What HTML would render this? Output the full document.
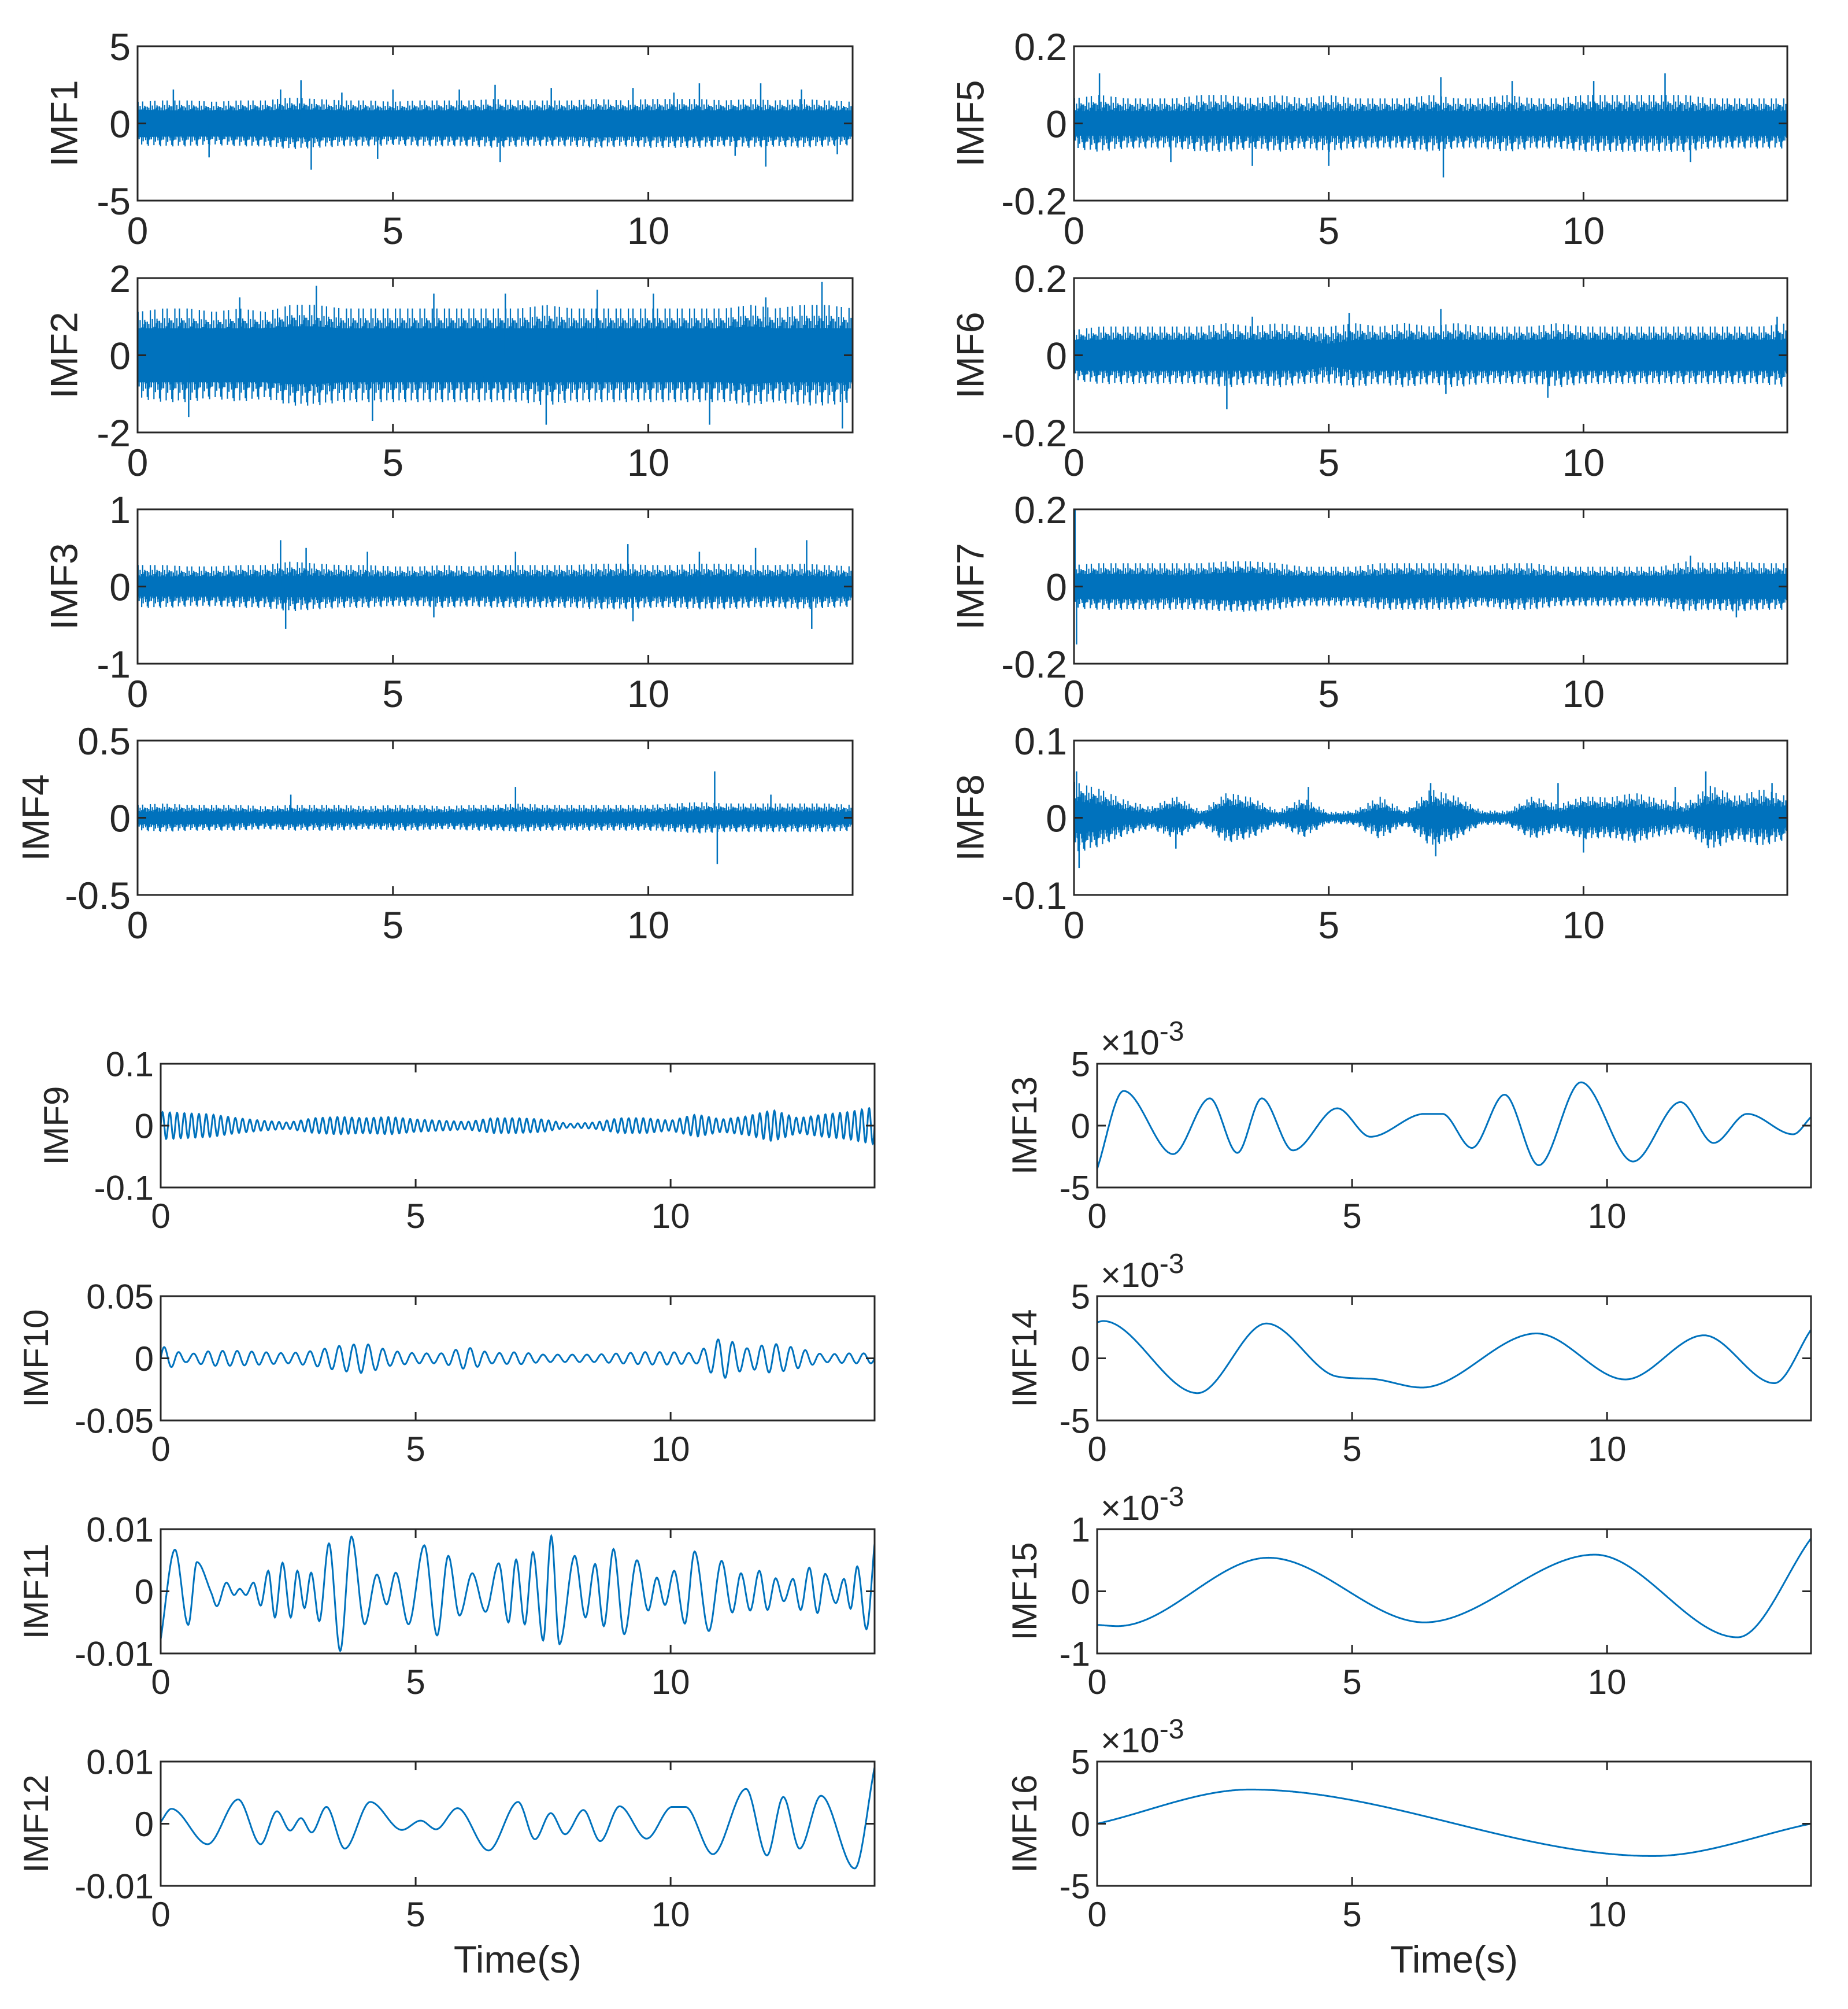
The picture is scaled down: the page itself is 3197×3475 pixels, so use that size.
<!DOCTYPE html>
<html><head><meta charset="utf-8">
<style>
html,body{margin:0;padding:0;background:#fff;}
svg{display:block;}
</style></head>
<body>
<svg id="fig" width="3197" height="3475" viewBox="0 0 3197 3475" xmlns="http://www.w3.org/2000/svg"></svg>
<script>
// ---------- data ----------
const envTimes = [0,0.5,1,1.5,2,2.5,3,3.5,4,4.5,5,5.5,6,6.5,7,7.5,8,8.5,9,9.5,10,10.5,11,11.5,12,12.5,13,13.5,14];
const imf1Core = [0.9,0.85,0.85,0.85,0.85,0.85,0.9,0.9,0.85,0.85,0.85,0.85,0.85,0.85,0.85,0.85,0.85,0.85,0.9,0.85,0.85,0.85,0.85,0.85,0.85,0.85,0.85,0.85,0.85];
const imf1Peak = [1.5,1.6,1.6,1.5,1.6,1.6,1.8,1.7,1.6,1.6,1.5,1.6,1.6,1.6,1.7,1.6,1.6,1.6,1.7,1.6,1.7,1.7,1.7,1.6,1.7,1.6,1.7,1.6,1.5];
const imf1SpikeT = [0.7,1.4,2.8,3.2,3.4,4.0,4.7,5.0,6.3,7.0,7.1,8.1,9.7,10.5,11.0,11.7,12.2,12.3,13.0,13.7];
const imf1SpikeV = [2.2,-2.2,2.2,2.8,-3.0,2.0,-2.3,2.2,2.2,2.5,-2.5,2.3,2.3,2.0,2.6,-2.1,2.6,-2.8,2.2,-2.0];
const imf2Core = [0.7,0.7,0.7,0.7,0.7,0.7,0.75,0.75,0.7,0.7,0.7,0.7,0.7,0.7,0.7,0.7,0.7,0.7,0.7,0.7,0.7,0.7,0.7,0.7,0.75,0.7,0.7,0.7,0.7];
const imf2Peak = [1.2,1.3,1.3,1.2,1.3,1.2,1.4,1.4,1.3,1.3,1.3,1.3,1.3,1.3,1.3,1.3,1.4,1.3,1.3,1.3,1.3,1.3,1.3,1.3,1.4,1.3,1.4,1.4,1.3];
const imf2SpikeT = [1.0,2.0,3.5,4.6,5.8,7.2,8.0,9.0,10.1,11.2,12.3,13.4,13.8];
const imf2SpikeV = [-1.6,1.5,1.8,-1.7,1.6,1.6,-1.8,1.7,1.6,-1.8,1.5,1.9,-1.9];
const imf3Core = [0.13,0.13,0.13,0.13,0.13,0.13,0.14,0.14,0.13,0.13,0.13,0.13,0.13,0.13,0.13,0.13,0.13,0.13,0.13,0.14,0.13,0.13,0.13,0.13,0.13,0.13,0.14,0.13,0.13];
const imf3Peak = [0.3,0.3,0.28,0.28,0.3,0.3,0.35,0.32,0.3,0.3,0.28,0.28,0.3,0.28,0.3,0.3,0.3,0.3,0.32,0.32,0.3,0.3,0.32,0.32,0.3,0.3,0.32,0.3,0.28];
const imf3SpikeT = [2.8,2.9,3.3,4.5,5.8,7.4,9.6,9.7,11.0,12.1,13.1,13.2];
const imf3SpikeV = [0.6,-0.55,0.5,0.45,-0.4,0.45,0.55,-0.45,0.45,0.5,0.6,-0.55];
const imf4Core = [0.04,0.04,0.04,0.04,0.035,0.035,0.04,0.035,0.035,0.035,0.035,0.035,0.035,0.035,0.04,0.04,0.035,0.035,0.035,0.035,0.035,0.04,0.04,0.045,0.04,0.04,0.04,0.04,0.04];
const imf4Peak = [0.09,0.1,0.09,0.09,0.09,0.08,0.09,0.09,0.09,0.08,0.09,0.09,0.08,0.09,0.09,0.1,0.09,0.09,0.09,0.09,0.09,0.1,0.11,0.1,0.1,0.1,0.1,0.1,0.09];
const imf4SpikeT = [3.0,7.4,11.3,11.35,12.4];
const imf4SpikeV = [0.15,0.2,0.3,-0.3,0.15];
const imf5Core = [0.032,0.032,0.032,0.032,0.032,0.032,0.032,0.032,0.032,0.032,0.032,0.032,0.032,0.032,0.032,0.032,0.032,0.032,0.032,0.032,0.032,0.032,0.032,0.032,0.032,0.032,0.032,0.032,0.032];
const imf5Peak = [0.07,0.08,0.07,0.07,0.07,0.08,0.08,0.07,0.08,0.07,0.08,0.07,0.07,0.07,0.08,0.07,0.07,0.08,0.07,0.07,0.08,0.08,0.08,0.08,0.08,0.07,0.07,0.07,0.07];
const imf5SpikeT = [0.5,1.9,3.5,5.0,7.2,7.25,8.6,10.2,11.6,12.1];
const imf5SpikeV = [0.13,-0.1,-0.11,-0.11,0.12,-0.14,0.11,0.11,0.13,-0.1];
const imf6Core = [0.04,0.04,0.04,0.04,0.04,0.04,0.04,0.04,0.04,0.04,0.028,0.04,0.04,0.04,0.04,0.04,0.04,0.04,0.04,0.04,0.04,0.04,0.04,0.04,0.04,0.04,0.04,0.04,0.04];
const imf6Peak = [0.07,0.08,0.08,0.08,0.08,0.08,0.09,0.08,0.09,0.08,0.08,0.09,0.08,0.09,0.08,0.09,0.08,0.08,0.08,0.09,0.08,0.08,0.08,0.08,0.08,0.08,0.08,0.08,0.09];
const imf6SpikeT = [3.0,3.5,5.4,7.2,7.3,9.3,13.8];
const imf6SpikeV = [-0.14,0.1,0.11,0.12,-0.1,-0.11,0.1];
const imf7Core = [0.032,0.032,0.032,0.032,0.028,0.032,0.036,0.036,0.028,0.028,0.028,0.028,0.028,0.032,0.028,0.028,0.028,0.032,0.028,0.028,0.028,0.028,0.028,0.028,0.032,0.032,0.032,0.032,0.032];
const imf7Peak = [0.06,0.065,0.065,0.065,0.065,0.065,0.07,0.07,0.065,0.055,0.055,0.055,0.065,0.065,0.065,0.065,0.055,0.065,0.065,0.055,0.055,0.055,0.055,0.055,0.07,0.065,0.07,0.065,0.065];
const imf7SpikeT = [0.02,0.05,12.1,13.0];
const imf7SpikeV = [0.2,-0.15,0.08,-0.08];
const imf8Core = [0.025,0.02,0.01,0.007,0.016,0.004,0.018,0.012,0.004,0.012,0.003,0.004,0.01,0.005,0.016,0.016,0.005,0.004,0.016,0.008,0.016,0.012,0.016,0.01,0.008,0.02,0.015,0.016,0.016];
const imf8Peak = [0.05,0.04,0.025,0.015,0.03,0.01,0.035,0.028,0.01,0.028,0.008,0.01,0.03,0.01,0.04,0.03,0.01,0.01,0.03,0.018,0.03,0.028,0.035,0.026,0.02,0.045,0.03,0.04,0.03];
const imf8SpikeT = [0.05,0.1,2.0,4.6,7.0,7.1,9.5,10.0,11.8,12.4,13.7];
const imf8SpikeV = [0.06,-0.065,-0.04,0.04,0.045,-0.05,0.045,-0.045,0.04,0.06,0.045];
const imf9Env = [0.022,0.02,0.018,0.012,0.008,0.005,0.012,0.014,0.012,0.014,0.01,0.008,0.006,0.012,0.012,0.01,0.003,0.005,0.012,0.012,0.008,0.018,0.01,0.015,0.025,0.012,0.018,0.022,0.03];
const imf10Env = [0.01,0.003,0.006,0.006,0.005,0.004,0.006,0.01,0.012,0.006,0.004,0.004,0.009,0.004,0.005,0.003,0.003,0.003,0.004,0.005,0.005,0.004,0.017,0.008,0.012,0.008,0.003,0.004,0.004];
const imf9Freq = 7, imf10Freq = 3.5;
const imf11T = [0,0.28,0.54,0.71,0.99,1.10,1.29,1.44,1.55,1.67,1.82,1.96,2.11,2.24,2.39,2.55,2.68,2.82,2.95,3.11,3.30,3.52,3.74,4.00,4.24,4.43,4.61,4.86,5.17,5.42,5.64,5.86,6.11,6.37,6.63,6.82,6.97,7.14,7.30,7.50,7.66,7.82,8.12,8.33,8.52,8.69,8.88,9.09,9.34,9.56,9.73,9.89,10.07,10.28,10.47,10.75,11.00,11.21,11.38,11.56,11.74,11.90,12.06,12.22,12.40,12.55,12.72,12.88,13.03,13.24,13.40,13.53,13.66,13.84,14];
const imf11V = [-0.0077,0.0067,-0.0054,0.0047,-0.0002,-0.0024,0.0014,-0.0006,0.0004,-0.0006,0.0014,-0.0023,0.0033,-0.0042,0.0046,-0.0042,0.0033,-0.0027,0.003,-0.0048,0.0077,-0.0096,0.0088,-0.0053,0.0027,-0.0021,0.003,-0.0053,0.0074,-0.0071,0.0057,-0.0039,0.0029,-0.0033,0.0045,-0.005,0.0051,-0.0053,0.0063,-0.0079,0.0089,-0.0085,0.0057,-0.0042,0.0044,-0.0056,0.0068,-0.0069,0.005,-0.0031,0.0022,-0.0022,0.0033,-0.0052,0.0064,-0.0064,0.0049,-0.0034,0.0029,-0.0031,0.0033,-0.003,0.0021,-0.0016,0.002,-0.003,0.0038,-0.0035,0.0028,-0.0019,0.002,-0.0028,0.004,-0.0061,0.0077];
const imf12T = [0,0.21,0.92,1.52,1.96,2.28,2.54,2.75,2.96,3.25,3.61,4.11,4.73,5.10,5.40,5.82,6.43,7.01,7.34,7.65,7.93,8.29,8.62,9.00,9.53,10.03,10.29,10.83,11.48,11.89,12.21,12.53,12.95,13.61,14];
const imf12V = [0.0003,0.0024,-0.0033,0.0039,-0.0033,0.002,-0.0011,0.0009,-0.0014,0.0027,-0.004,0.0035,-0.001,0.0005,-0.0009,0.0025,-0.0043,0.0035,-0.0025,0.0017,-0.0017,0.0022,-0.0028,0.0028,-0.0024,0.0027,0.0027,-0.0049,0.0056,-0.0051,0.0043,-0.004,0.0045,-0.0072,0.0091];
const imf13T = [0,0.52,1.49,2.21,2.75,3.23,3.84,4.71,5.36,6.42,6.77,7.35,7.99,8.66,9.49,10.51,11.44,12.09,12.75,13.65,14];
const imf13V = [-3.5,2.8,-2.3,2.2,-2.2,2.2,-2.0,1.4,-0.9,0.95,0.95,-1.8,2.5,-3.2,3.5,-2.9,1.9,-1.4,0.95,-0.7,0.7];
const imf14T = [0,0.12,1.97,3.32,4.69,5.38,6.37,8.62,10.36,11.9,13.28,14];
const imf14V = [2.9,3.0,-2.8,2.8,-1.45,-1.65,-2.35,2.0,-1.7,1.85,-2.0,2.3];
const imf15T = [0,0.4,3.36,6.42,9.76,12.56,14];
const imf15V = [-0.54,-0.56,0.54,-0.5,0.59,-0.74,0.85];
const imf16T = [0,3.0,10.9,14];
const imf16V = [0,2.75,-2.6,0];
const xTicks = [0,5,10];
const texturePattern = [0.35,1,0.55,0.85,0.2,0.95,0.6,0.4,0.75,0.3,0.9,0.5,0.15,0.8,0.65,0.45,1,0.25,0.7,0.55,0.9,0.35,0.6,0.1];

// ---------- helpers ----------
const NS="http://www.w3.org/2000/svg";
const svg=document.getElementById('fig');
function mk(tag,attrs,parent){const e=document.createElementNS(NS,tag);for(const k in attrs)e.setAttribute(k,attrs[k]);(parent||svg).appendChild(e);return e;}
function lerpArr(ts,vs,t){if(t<=ts[0])return vs[0];for(let i=1;i<ts.length;i++){if(t<=ts[i]){const f=(t-ts[i-1])/(ts[i]-ts[i-1]);return vs[i-1]+f*(vs[i]-vs[i-1]);}}return vs[vs.length-1];}
function monotone(ts,vs){const n=ts.length,d=[],m=[];for(let i=0;i<n-1;i++)d.push((vs[i+1]-vs[i])/(ts[i+1]-ts[i]));m[0]=d[0];m[n-1]=d[n-2];for(let i=1;i<n-1;i++){m[i]=(d[i-1]*d[i]<=0)?0:(d[i-1]+d[i])/2;}
 for(let i=0;i<n-1;i++){if(d[i]===0){m[i]=0;m[i+1]=0;continue;}const a=m[i]/d[i],b=m[i+1]/d[i],s=a*a+b*b;if(s>9){const tt=3/Math.sqrt(s);m[i]=tt*a*d[i];m[i+1]=tt*b*d[i];}}
 return function(t){let i=0;while(i<n-2&&t>ts[i+1])i++;const h=ts[i+1]-ts[i],u=(t-ts[i])/h;const h00=2*u*u*u-3*u*u+1,h10=u*u*u-2*u*u+u,h01=-2*u*u*u+3*u*u,h11=u*u*u-u*u;return h00*vs[i]+h10*h*m[i]+h01*vs[i+1]+h11*h*m[i+1];};}

const BLUE="#0072BD";
function axes(cfg){
 const g=mk('g',{});
 
 
 const X=t=>cfg.x0+(t-0)/(14-0)*(cfg.x1-cfg.x0);
 const Y=v=>cfg.y1-(v-cfg.ymin)/(cfg.ymax-cfg.ymin)*(cfg.y1-cfg.y0);
 return {g,X,Y};
}
function frame(cfg,a){
 const g=a.g;
 const r=mk('rect',{x:cfg.x0,y:cfg.y0,width:cfg.x1-cfg.x0,height:cfg.y1-cfg.y0,fill:'none',stroke:'#262626','stroke-width':3},g);
 
 const tl=15;
 xTicks.forEach(t=>{const x=a.X(t);
  mk('line',{x1:x,y1:cfg.y1,x2:x,y2:cfg.y1-tl,stroke:'#262626','stroke-width':3},g);
  mk('line',{x1:x,y1:cfg.y0,x2:x,y2:cfg.y0+tl,stroke:'#262626','stroke-width':3},g);
  const tx=mk('text',{x:x,y:cfg.y1+cfg.xlOff,'text-anchor':'middle','font-size':cfg.fs,fill:'#262626','font-family':cfg.ff},g);
  tx.textContent=String(t);
  
 });
 cfg.yt.forEach((v,i)=>{const y=a.Y(v);
  mk('line',{x1:cfg.x0,y1:y,x2:cfg.x0+tl,y2:y,stroke:'#262626','stroke-width':3},g);
  mk('line',{x1:cfg.x1,y1:y,x2:cfg.x1-tl,y2:y,stroke:'#262626','stroke-width':3},g);
  const tx=mk('text',{x:cfg.x0-12,y:y+cfg.fs*0.36,'text-anchor':'end','font-size':cfg.fs,fill:'#262626','font-family':cfg.ff},g);
  tx.textContent=cfg.ytl[i];
  
 });
 const yl=mk('text',{x:0,y:0,transform:`translate(${cfg.lx},${(cfg.y0+cfg.y1)/2}) rotate(-90)`,'text-anchor':'middle','font-size':cfg.fs,fill:'#262626','font-family':cfg.ff,'dominant-baseline':'middle'},g);
 yl.textContent=cfg.id.toUpperCase();
 
 if(cfg.exp){const tx=mk('text',{x:cfg.x0+6,y:cfg.y0-16,'font-size':cfg.fs,fill:'#262626','font-family':cfg.ff},g);
  tx.innerHTML='\u00d710<tspan dy="-24" font-size="'+(cfg.fs*0.8)+'">-3</tspan>';
  }
 if(cfg.xlabel){const tx=mk('text',{x:(cfg.x0+cfg.x1)/2,y:cfg.y1+150,'text-anchor':'middle','font-size':66,fill:'#262626','font-family':cfg.ff},g);
  tx.textContent='Time(s)';}
}
function drawNoise(cfg,core,peak,spT,spV,bandScale){
 const a=axes(cfg);
 let top='',bot='';
 for(let i=0;i<=280;i++){const t=i*0.05;const c=lerpArr(envTimes,core,t)*bandScale;top+=(i?'L':'M')+a.X(t).toFixed(1)+','+a.Y(c).toFixed(1);bot='L'+a.X(t).toFixed(1)+','+a.Y(-c).toFixed(1)+bot;}
 const band=mk('path',{d:top+bot+'Z',fill:BLUE,stroke:'none'},a.g);
 
 let d='';
 for(let i=0;i<=1400;i++){const t=i*0.01;const c=lerpArr(envTimes,core,t),p=lerpArr(envTimes,peak,t);
  const k=texturePattern[i%texturePattern.length]*texturePattern[(i*7+3)%texturePattern.length];
  const hi=c*0.6+(p-c*0.6)*k, lo=c*0.6+(p-c*0.6)*texturePattern[(i*5+11)%texturePattern.length]*texturePattern[(i*3+1)%texturePattern.length];
  d+='M'+a.X(t).toFixed(1)+','+a.Y(hi).toFixed(1)+'V'+a.Y(-lo).toFixed(1);}
 const sp=mk('path',{d:d,stroke:BLUE,'stroke-width':2.2,fill:'none'},a.g);
 
 let s='';
 spT.forEach((t,i)=>{s+='M'+a.X(t).toFixed(1)+','+a.Y(0).toFixed(1)+'V'+a.Y(spV[i]).toFixed(1);});
 const sk=mk('path',{d:s,stroke:BLUE,'stroke-width':2.5,fill:'none'},a.g);
 
 frame(cfg,a);
}
function drawOsc(cfg,env,freq){
 const a=axes(cfg);let d='';
 for(let i=0;i<=2800;i++){const t=i*0.005;const v=lerpArr(envTimes,env,t)*Math.sin(2*Math.PI*freq*t);d+=(i?'L':'M')+a.X(t).toFixed(1)+','+a.Y(v).toFixed(1);}
 const p=mk('path',{d:d,stroke:BLUE,'stroke-width':3,fill:'none'},a.g);
 
 frame(cfg,a);
}
function drawSmooth(cfg,ts,vs){
 const a=axes(cfg);const f=monotone(ts,vs);let d='';
 for(let i=0;i<=1400;i++){const t=i*0.01;d+=(i?'L':'M')+a.X(t).toFixed(1)+','+a.Y(f(t)).toFixed(1);}
 const p=mk('path',{d:d,stroke:BLUE,'stroke-width':3,fill:'none'},a.g);
 
 frame(cfg,a);
}
const FT='"Liberation Sans Narrow","Liberation Sans",sans-serif', FB='"Liberation Sans",sans-serif';
const rowsTop=[[80,347],[481,748],[881,1148],[1281,1548]];
const rowsBot=[[1840,2054],[2242,2457],[2645,2860],[3047,3262]];
function T(id,col,row,ymin,ymax,ytl,lx){const xs=col?[1858,3092]:[238,1475];return {id,x0:xs[0],x1:xs[1],y0:rowsTop[row][0],y1:rowsTop[row][1],ymin,ymax,yt:[ymin,0,ymax],ytl,lx,fs:66,ff:FT,xlOff:75};}
function B(id,col,row,ymin,ymax,ytl,lx,exp,xlabel){const xs=col?[1898,3133]:[278,1513];return {id,x0:xs[0],x1:xs[1],y0:rowsBot[row][0],y1:rowsBot[row][1],ymin,ymax,yt:[ymin,0,ymax],ytl,lx,fs:60,ff:FB,xlOff:70,exp,xlabel};}

drawNoise(T('imf1',0,0,-5,5,['-5','0','5'],116),imf1Core,imf1Peak,imf1SpikeT,imf1SpikeV,1);
drawNoise(T('imf2',0,1,-2,2,['-2','0','2'],116),imf2Core,imf2Peak,imf2SpikeT,imf2SpikeV,1);
drawNoise(T('imf3',0,2,-1,1,['-1','0','1'],116),imf3Core,imf3Peak,imf3SpikeT,imf3SpikeV,1);
drawNoise(T('imf4',0,3,-0.5,0.5,['-0.5','0','0.5'],67),imf4Core,imf4Peak,imf4SpikeT,imf4SpikeV,1);
drawNoise(T('imf5',1,0,-0.2,0.2,['-0.2','0','0.2'],1684),imf5Core,imf5Peak,imf5SpikeT,imf5SpikeV,1);
drawNoise(T('imf6',1,1,-0.2,0.2,['-0.2','0','0.2'],1684),imf6Core,imf6Peak,imf6SpikeT,imf6SpikeV,1);
drawNoise(T('imf7',1,2,-0.2,0.2,['-0.2','0','0.2'],1684),imf7Core,imf7Peak,imf7SpikeT,imf7SpikeV,1);
drawNoise(T('imf8',1,3,-0.1,0.1,['-0.1','0','0.1'],1684),imf8Core,imf8Peak,imf8SpikeT,imf8SpikeV,0.3);
drawOsc(B('imf9',0,0,-0.1,0.1,['-0.1','0','0.1'],102),imf9Env,imf9Freq);
drawOsc(B('imf10',0,1,-0.05,0.05,['-0.05','0','0.05'],67),imf10Env,imf10Freq);
drawSmooth(B('imf11',0,2,-0.01,0.01,['-0.01','0','0.01'],67),imf11T,imf11V);
drawSmooth(B('imf12',0,3,-0.01,0.01,['-0.01','0','0.01'],67,false,true),imf12T,imf12V);
drawSmooth(B('imf13',1,0,-5,5,['-5','0','5'],1777,true),imf13T,imf13V);
drawSmooth(B('imf14',1,1,-5,5,['-5','0','5'],1777,true),imf14T,imf14V);
drawSmooth(B('imf15',1,2,-1,1,['-1','0','1'],1777,true),imf15T,imf15V);
drawSmooth(B('imf16',1,3,-5,5,['-5','0','5'],1777,true,true),imf16T,imf16V);
</script>
</body></html>
